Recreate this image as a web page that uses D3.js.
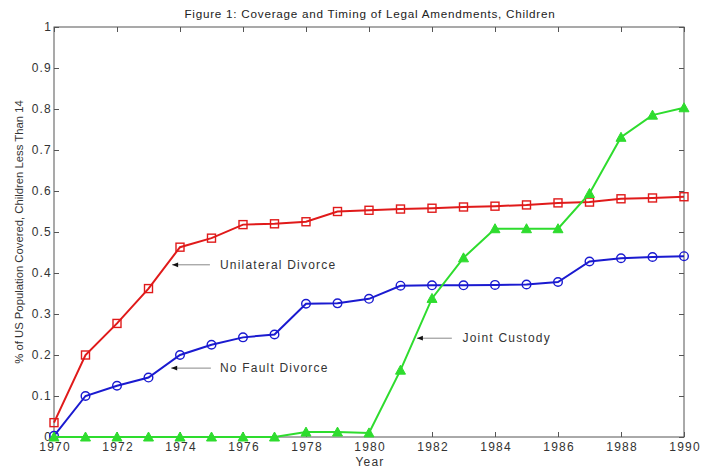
<!DOCTYPE html>
<html>
<head>
<meta charset="utf-8">
<script src="https://cdn.jsdelivr.net/npm/d3@7"></script>
<style>
  body { margin: 0; background: #fff; }
  svg { display: block; font-family: "Liberation Sans", Arial, sans-serif; }
</style>
</head>
<body>
<svg id="chart" width="704" height="473"></svg>
<script>
// Years covered
const years = d3.range(1970, 1991);

// Share of US children under 14 covered by each amendment
const unilateralDivorce = [0.035, 0.200, 0.277, 0.362, 0.463, 0.485, 0.518, 0.520, 0.525, 0.550, 0.553,
                           0.556, 0.558, 0.561, 0.563, 0.566, 0.571, 0.573, 0.581, 0.583, 0.586];
const noFaultDivorce    = [0.003, 0.100, 0.125, 0.145, 0.200, 0.225, 0.243, 0.250, 0.325, 0.326, 0.337,
                           0.369, 0.370, 0.370, 0.371, 0.372, 0.378, 0.428, 0.436, 0.439, 0.441];
const jointCustody      = [0.000, 0.000, 0.000, 0.000, 0.000, 0.000, 0.000, 0.000, 0.012, 0.012, 0.010,
                           0.163, 0.338, 0.437, 0.508, 0.508, 0.508, 0.594, 0.731, 0.785, 0.803];

const xTicks = d3.range(1970, 1991, 2);
const yTicks = [0, 0.1, 0.2, 0.3, 0.4, 0.5, 0.6, 0.7, 0.8, 0.9, 1];

// Labels with arrows: arrow tail/head in data units, text starts at textX
const annotations = [
  { label: "Unilateral Divorce", y: 0.42, from: 1974.95, to: 1973.75, textX: 1975.27 },
  { label: "No Fault Divorce",   y: 0.168, from: 1974.98, to: 1973.72, textX: 1975.27 },
  { label: "Joint Custody",      y: 0.241, from: 1982.63, to: 1981.52, textX: 1982.97 }
];

const series = [
  { name: "Unilateral Divorce", values: unilateralDivorce, color: "#e01a1a", marker: "square" },
  { name: "No Fault Divorce",   values: noFaultDivorce,    color: "#1a1ad0", marker: "circle" },
  { name: "Joint Custody",      values: jointCustody,      color: "#2edc2e", marker: "triangle" }
];

const svg = d3.select("#chart");
const plotLeft = 54, plotRight = 684, plotTop = 27, plotBottom = 437;

const x = d3.scaleLinear().domain([1970, 1990]).range([plotLeft, plotRight]);
const y = d3.scaleLinear().domain([0, 1]).range([plotBottom, plotTop]);

const textColor = "#333";
const spacing = "1.2px";

// Frame
svg.append("rect")
  .attr("x", plotLeft).attr("y", plotTop)
  .attr("width", plotRight - plotLeft).attr("height", plotBottom - plotTop)
  .attr("fill", "none").attr("stroke", "#555").attr("stroke-width", 1);

const tickLen = 5;

// Bottom axis with inward ticks
const xAxis = svg.append("g").attr("transform", `translate(0,${plotBottom})`)
  .call(d3.axisBottom(x).tickValues(xTicks).tickFormat(d3.format("d"))
    .tickSizeInner(-tickLen).tickSizeOuter(0).tickPadding(5));
// Top axis ticks
const xTop = svg.append("g").attr("transform", `translate(0,${plotTop})`)
  .call(d3.axisTop(x).tickValues(xTicks).tickFormat("")
    .tickSizeInner(-tickLen).tickSizeOuter(0));
// Left axis
const yAxis = svg.append("g").attr("transform", `translate(${plotLeft},0)`)
  .call(d3.axisLeft(y).tickValues(yTicks).tickFormat(d => d === 0 ? "0" : d === 1 ? "1" : d3.format(".1f")(d))
    .tickSizeInner(-tickLen).tickSizeOuter(0).tickPadding(2));
// Right axis ticks
const yRight = svg.append("g").attr("transform", `translate(${plotRight},0)`)
  .call(d3.axisRight(y).tickValues(yTicks).tickFormat("")
    .tickSizeInner(-tickLen).tickSizeOuter(0));

[xAxis, xTop, yAxis, yRight].forEach(g => {
  g.select(".domain").remove();
  g.selectAll(".tick line").attr("stroke", "#555");
  g.selectAll(".tick text").attr("fill", textColor).attr("font-size", 12)
    .attr("letter-spacing", spacing)
    .attr("font-family", "\"Liberation Sans\", Arial, sans-serif");
});
xAxis.selectAll(".tick text").attr("dx", "0.6px");

// Lines
const line = d3.line().x((d, i) => x(years[i])).y(d => y(d));

series.forEach(s => {
  const g = svg.append("g");
  g.append("path").datum(s.values)
    .attr("d", line)
    .attr("fill", "none")
    .attr("stroke", s.color)
    .attr("stroke-width", 2);

  const pts = g.selectAll(".pt").data(s.values).enter();
  if (s.marker === "square") {
    pts.append("rect")
      .attr("x", (d, i) => x(years[i]) - 4).attr("y", d => y(d) - 4)
      .attr("width", 8).attr("height", 8)
      .attr("fill", "none").attr("stroke", s.color).attr("stroke-width", 1.4);
  } else if (s.marker === "circle") {
    pts.append("circle")
      .attr("cx", (d, i) => x(years[i])).attr("cy", d => y(d)).attr("r", 4.3)
      .attr("fill", "none").attr("stroke", s.color).attr("stroke-width", 1.4);
  } else {
    pts.append("path")
      .attr("transform", (d, i) => `translate(${x(years[i])},${y(d)})`)
      .attr("d", "M0,-5 L5,4 L-5,4 Z")
      .attr("fill", s.color).attr("stroke", s.color).attr("stroke-width", 1);
  }
});

// Annotations: grey shaft with a small black head at the pointed end
svg.append("defs").append("marker")
  .attr("id", "arrowhead")
  .attr("viewBox", "0 0 10 10")
  .attr("refX", 10).attr("refY", 5)
  .attr("markerWidth", 8).attr("markerHeight", 6)
  .attr("markerUnits", "userSpaceOnUse")
  .attr("orient", "auto")
  .append("path").attr("d", "M10,5 L0,1 L0,9 Z").attr("fill", "#111");

annotations.forEach(a => {
  svg.append("line")
    .attr("x1", x(a.from)).attr("y1", y(a.y))
    .attr("x2", x(a.to)).attr("y2", y(a.y))
    .attr("stroke", "#888").attr("stroke-width", 1)
    .attr("marker-end", "url(#arrowhead)");
  svg.append("text")
    .attr("x", x(a.textX)).attr("y", y(a.y))
    .attr("dy", "0.35em")
    .attr("font-size", 12).attr("letter-spacing", spacing).attr("fill", textColor)
    .text(a.label);
});

// Title and axis labels
svg.append("text")
  .attr("x", (plotLeft + plotRight) / 2 + 1).attr("y", 18)
  .attr("text-anchor", "middle").attr("font-size", 11.7).attr("letter-spacing", "0.75px")
  .attr("fill", "#222")
  .text("Figure 1: Coverage and Timing of Legal Amendments, Children");

svg.append("text")
  .attr("x", (plotLeft + plotRight) / 2 + 1).attr("y", 466)
  .attr("text-anchor", "middle").attr("font-size", 12).attr("letter-spacing", spacing)
  .attr("fill", textColor)
  .text("Year");

svg.append("text")
  .attr("transform", `translate(23,${(plotTop + plotBottom) / 2}) rotate(-90)`)
  .attr("text-anchor", "middle").attr("font-size", 11.3).attr("fill", textColor)
  .text("% of US Population Covered, Children Less Than 14");
</script>
</body>
</html>
